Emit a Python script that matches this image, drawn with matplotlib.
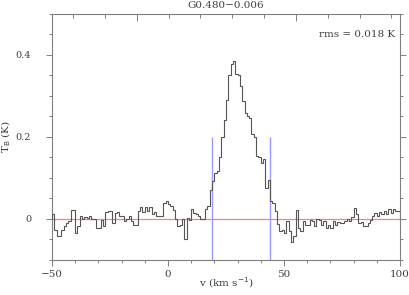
import numpy as np
import matplotlib
matplotlib.use('Agg')
import matplotlib.pyplot as plt
from matplotlib.ticker import MultipleLocator, FixedLocator

# spectrum: channels of 1 km/s starting at -50 km/s
v_start = -50.0
dv = 1.0
tb = [
    0.011, -0.026, -0.041, -0.041, -0.026, -0.018, -0.010, -0.006, 0.021, 0.021,
    -0.034, -0.018, 0.007, 0.000, 0.005, 0.002, 0.007, 0.000, 0.000, -0.022,
    -0.022, -0.002, -0.018, 0.016, 0.019, 0.019, -0.010, 0.015, 0.016, 0.008,
    0.008, -0.006, 0.000, 0.007, -0.006, -0.014, -0.014, 0.019, 0.029, 0.016,
    0.029, 0.019, 0.029, 0.012, 0.016, 0.008, 0.007, 0.007, 0.039, 0.043,
    0.037, 0.031, 0.021, 0.000, -0.018, -0.016, 0.000, -0.050, 0.002, -0.002,
    0.024, 0.015, 0.011, 0.008, 0.000, 0.000, 0.023, 0.031, 0.071, 0.092,
    0.112, 0.116, 0.150, 0.200, 0.242, 0.289, 0.352, 0.378, 0.386, 0.354,
    0.350, 0.325, 0.287, 0.259, 0.250, 0.245, 0.206, 0.200, 0.153, 0.150,
    0.137, 0.145, 0.076, 0.096, 0.043, 0.039, 0.020, -0.012, -0.030, -0.026,
    -0.034, -0.006, -0.030, -0.057, -0.042, 0.021, -0.022, -0.030, -0.006, -0.014,
    -0.014, -0.003, -0.006, -0.018, 0.000, -0.003, -0.014, -0.006, -0.022, -0.014,
    -0.022, -0.006, -0.014, -0.008, -0.010, -0.010, -0.006, 0.000, -0.006, 0.005,
    0.027, 0.011, -0.010, -0.008, -0.018, -0.018, -0.010, -0.002, 0.008, 0.015,
    0.008, 0.016, 0.013, 0.019, 0.011, 0.023, 0.015, 0.024, 0.019, 0.019,
]
# integration window markers
window = [19.0, 44.0]
window_top = 0.2
# frequency axis tick positions (in velocity units) on the top edge
top_major = [-13.4, 55.2]
top_minor = [-40.8, -27.1, 0.3, 14.0, 27.8, 41.5, 68.9, 82.6, 96.3]

title = 'G0.480\u22120.006'
rms_text = 'rms = 0.018 K'

edges = v_start + dv * np.arange(len(tb) + 1)

txt = '#404040'
spine = '#808080'

fig = plt.figure(figsize=(4.09, 2.95), dpi=100)
ax = fig.add_axes([0.127, 0.119, 0.851, 0.834])

ax.axhline(0, color='#ff7f7f', lw=0.9, zorder=1)
ax.vlines(window, -0.1, window_top, color='#9a9aff', lw=1.0, zorder=2)
ax.stairs(tb, edges, color='#555555', lw=0.8, zorder=3)

ax.set_xlim(-50, 100)
ax.set_ylim(-0.1, 0.5)

ax.xaxis.set_major_locator(FixedLocator([-50, 0, 50, 100]))
ax.xaxis.set_minor_locator(MultipleLocator(10))
ax.yaxis.set_major_locator(FixedLocator([0, 0.2, 0.4]))
ax.yaxis.set_minor_locator(MultipleLocator(0.05))
ax.set_yticklabels(['0', '0.2', '0.4'])
ax.set_xticklabels(['\u221250', '0', '50', '100'])

for s in ax.spines.values():
    s.set_color(spine)
    s.set_linewidth(0.8)

ax.tick_params(axis='both', which='both', color=spine, labelcolor=txt,
               labelsize=7.5, width=0.7)
ax.tick_params(axis='y', which='major', direction='out', length=4, pad=11,
               labelsize=7)
ax.tick_params(axis='y', which='minor', direction='out', length=2.5)
ax.tick_params(axis='x', which='major', direction='out', length=4, pad=3.5)
ax.tick_params(axis='x', which='minor', direction='out', length=2.5)
ax.tick_params(right=True, which='both')
for lab in ax.get_xticklabels() + ax.get_yticklabels():
    lab.set_family('DejaVu Serif')

# top axis: frequency scale, ticks only
top = ax.twiny()
top.set_xlim(ax.get_xlim())
top.xaxis.set_major_locator(FixedLocator(top_major))
top.xaxis.set_minor_locator(FixedLocator(top_minor))
top.tick_params(axis='x', which='major', direction='in', length=5,
                color=spine, width=0.7, labeltop=False)
top.tick_params(axis='x', which='minor', direction='in', length=3,
                color=spine, width=0.7)
for s in top.spines.values():
    s.set_visible(False)

ax.text(0.5, 1.032, title, transform=ax.transAxes, ha='center', va='center',
        fontsize=7.5, color=txt, family='DejaVu Serif')
ax.text(0.986, 0.915, rms_text, transform=ax.transAxes, ha='right',
        va='center', fontsize=7.5, color=txt, family='DejaVu Serif')
ax.set_xlabel('v (km s$^{-1}$)', fontsize=7.5, color=txt,
              family='DejaVu Serif', va='center')
ax.xaxis.set_label_coords(0.5, -0.093)
ax.set_ylabel('T$_{\\rm B}$ (K)', fontsize=7.5, color=txt,
              family='DejaVu Serif', va='center')
ax.yaxis.set_label_coords(-0.131, 0.5)

fig.savefig('out.png', dpi=100)
